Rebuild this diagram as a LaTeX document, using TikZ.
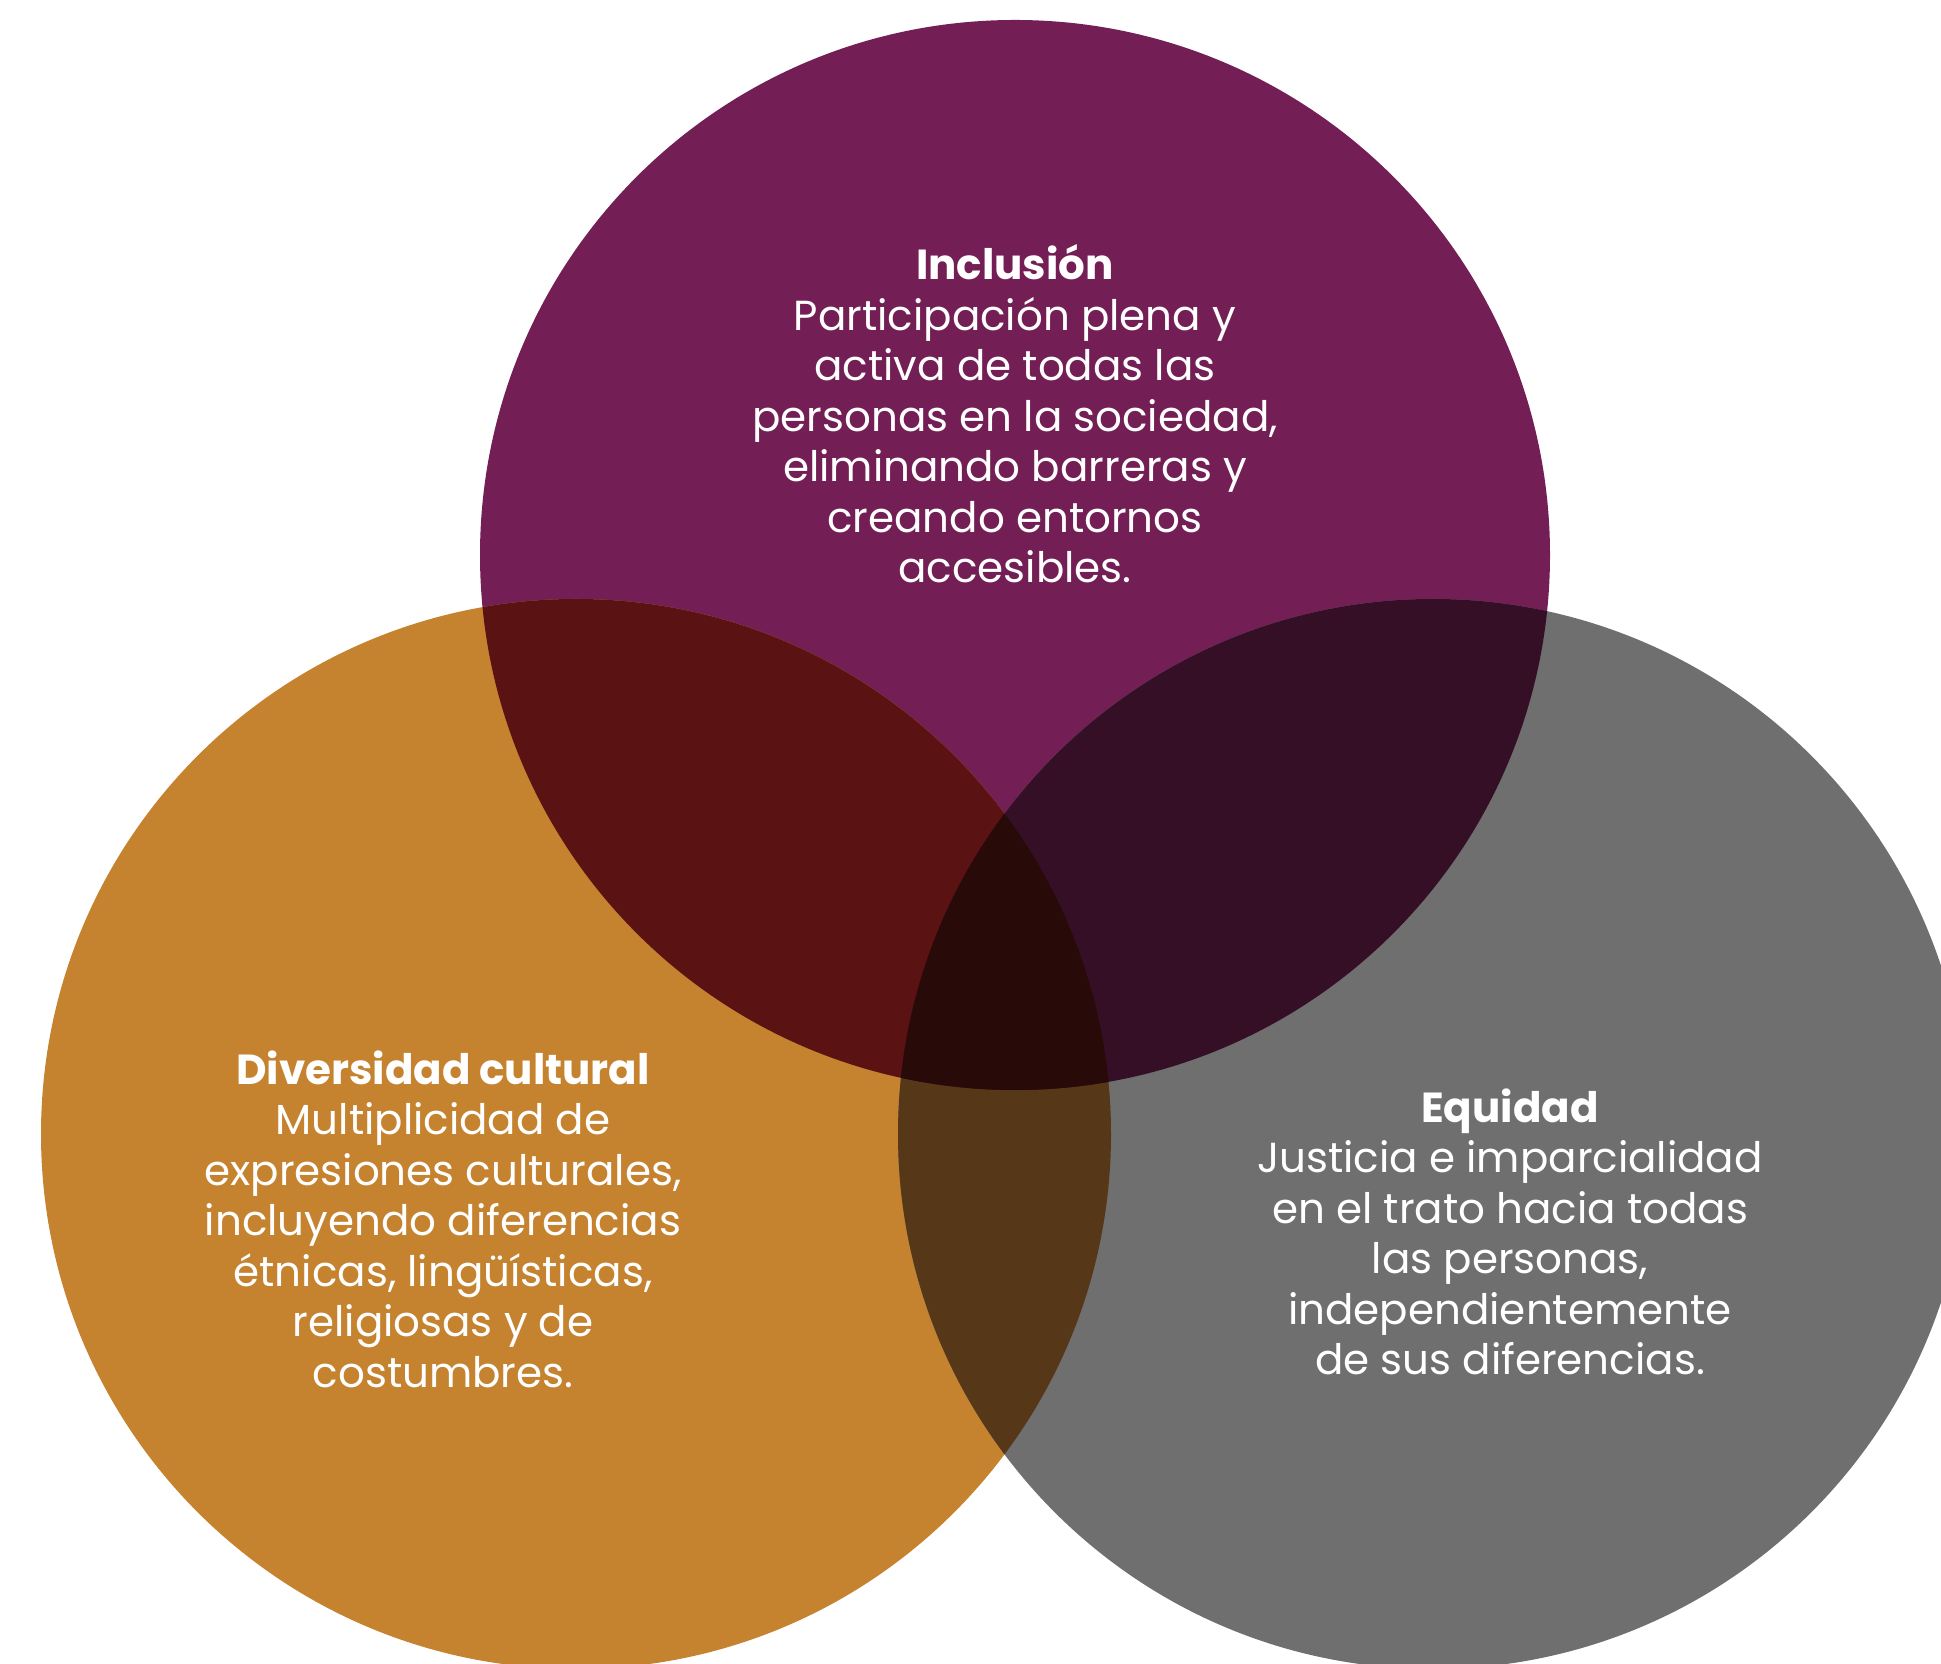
\documentclass[tikz,border=0pt]{standalone}
\usepackage{fontspec}
\setmainfont{Poppins}
\definecolor{inclcol}{HTML}{731F56}
\definecolor{divcol}{HTML}{C58330}
\definecolor{equicol}{HTML}{6F6F6F}
\definecolor{incldivcol}{HTML}{5A1212}
\definecolor{inclequicol}{HTML}{340F26}
\definecolor{divequicol}{HTML}{563818}
\definecolor{allcol}{HTML}{280A08}
\begin{document}
\begin{tikzpicture}[x=1pt,y=1pt,
	blurb/.style={text=white,align=center,inner sep=0pt,font=\fontsize{42}{50.5}\selectfont}]
	\useasboundingbox (0,0) rectangle (1941,1664);
	\clip (0,0) rectangle (1941,1664);
	\coordinate (incl) at (1015,1109);
	\coordinate (div) at (576,530);
	\coordinate (equi) at (1433,530);

	\fill[inclcol] (incl) circle (535pt);
	\fill[divcol] (div) circle (535pt);
	\fill[equicol] (equi) circle (535pt);
	% overlaps
	\begin{scope}
		\clip (div) circle (535pt);
		\fill[divequicol] (equi) circle (535pt);
	\end{scope}
	\begin{scope}
		\clip (incl) circle (535pt);
		\fill[incldivcol] (div) circle (535pt);
		\fill[inclequicol] (equi) circle (535pt);
		\clip (div) circle (535pt);
		\fill[allcol] (equi) circle (535pt);
	\end{scope}

	\node[blurb] (inclText) at (1015,1250) {\textbf{Inclusión}\\Participación plena y\\activa de todas las\\personas en la sociedad,\\eliminando barreras y\\creando entornos\\accesibles.};
	\node[blurb] (divText) at (443,445) {\textbf{Diversidad cultural}\\Multiplicidad de\\expresiones culturales,\\incluyendo diferencias\\étnicas, lingüísticas,\\religiosas y de\\costumbres.};
	\node[blurb] (equiText) at (1510,432) {\textbf{Equidad}\\Justicia e imparcialidad\\en el trato hacia todas\\las personas,\\independientemente\\de sus diferencias.};
\end{tikzpicture}
\end{document}
